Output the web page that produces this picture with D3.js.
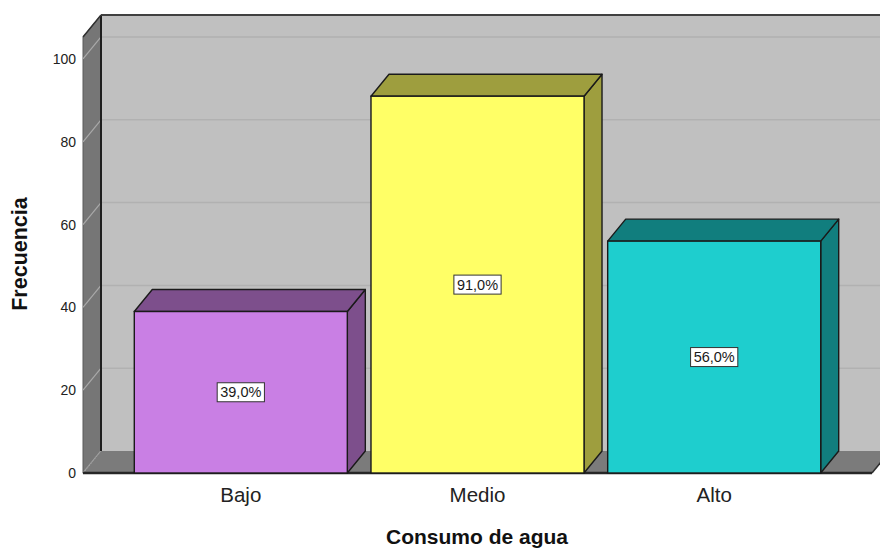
<!DOCTYPE html>
<html>
<head>
<meta charset="utf-8">
<script src="https://cdn.jsdelivr.net/npm/d3@7"></script>
<style>
  html, body { margin: 0; padding: 0; background: #ffffff; }
  svg { display: block; font-family: "Liberation Sans", Arial, Helvetica, sans-serif; }
</style>
</head>
<body>
<svg id="chart" width="880" height="549"></svg>
<script>
// Frequency of water consumption levels
const categories = ["Bajo", "Medio", "Alto"];
const frequencies = [39, 91, 56];
const percentLabels = ["39,0%", "91,0%", "56,0%"];
const yTicks = [0, 20, 40, 60, 80, 100];
const xTitle = "Consumo de agua";
const yTitle = "Frecuencia";

const frontColors = ["#c97fe4", "#ffff66", "#1ecece"];
const shadeColors = ["#7d4f8c", "#9e9e3e", "#117e7e"];

const svg = d3.select("#chart");
const W = 880, H = 549;

// depth offset of the 3D box
const DX = 18, DY = -22;

// front-plane value scale
const y = d3.scaleLinear().domain([0, 105.3]).range([473, 37]);
const x = d3.scaleBand().domain(categories).range([83, 872])
  .paddingInner(0.1).paddingOuter(0.2167);

const left = 83, right = 872;
const y0 = y(0), yTop = y(105.3);

// back wall
svg.append("rect")
  .attr("x", left + DX).attr("y", yTop + DY)
  .attr("width", W - (left + DX) + 20).attr("height", y0 - yTop)
  .attr("fill", "#c0c0c0");

// gridlines on back wall
svg.append("g").selectAll("line").data(yTicks.filter(d => d > 0)).join("line")
  .attr("x1", left + DX).attr("x2", W + 20)
  .attr("y1", d => y(d) + DY).attr("y2", d => y(d) + DY)
  .attr("stroke", "#b1b1b1").attr("stroke-width", 1.5);

// left wall
svg.append("path")
  .attr("d", `M${left},${yTop}L${left + DX},${yTop + DY}L${left + DX},${y0 + DY}L${left},${y0}Z`)
  .attr("fill", "#767676").attr("stroke", "#5a5a5a").attr("stroke-width", 1);

// slanted gridlines on left wall
svg.append("g").selectAll("line").data(yTicks).join("line")
  .attr("x1", left).attr("y1", d => y(d))
  .attr("x2", left + DX).attr("y2", d => y(d) + DY)
  .attr("stroke", "#a9a9a9").attr("stroke-width", 1.2);

// floor
svg.append("path")
  .attr("d", `M${left},${y0}L${left + DX},${y0 + DY}L${right + DX},${y0 + DY}L${right},${y0}Z`)
  .attr("fill", "#7b7b7b");
svg.append("line")
  .attr("x1", left).attr("y1", y0 + 0.5).attr("x2", left + DX).attr("y2", y0 + DY)
  .attr("stroke", "#a0a0a0").attr("stroke-width", 1).attr("stroke-dasharray", "2,1");

// corner edges
svg.append("line")
  .attr("x1", left + DX).attr("y1", yTop + DY).attr("x2", left + DX).attr("y2", y0 + DY)
  .attr("stroke", "#1e1e1e").attr("stroke-width", 2);
svg.append("line")
  .attr("x1", left + DX).attr("y1", yTop + DY).attr("x2", W + 20).attr("y2", yTop + DY)
  .attr("stroke", "#404040").attr("stroke-width", 2);
svg.append("line")
  .attr("x1", left).attr("y1", yTop).attr("x2", left + DX).attr("y2", yTop + DY)
  .attr("stroke", "#303030").attr("stroke-width", 1.5);
svg.append("line")
  .attr("x1", right).attr("y1", y0).attr("x2", right + DX).attr("y2", y0 + DY)
  .attr("stroke", "#303030").attr("stroke-width", 1.5);
svg.append("line")
  .attr("x1", left).attr("y1", y0).attr("x2", right).attr("y2", y0)
  .attr("stroke", "#262626").attr("stroke-width", 2.5);

// bars
const bars = svg.append("g").selectAll("g").data(categories).join("g");
bars.each(function (c, i) {
  const g = d3.select(this);
  const x0 = x(c), x1 = x(c) + x.bandwidth();
  const yv = y(frequencies[i]);
  const stroke = "#1a1a1a";
  g.append("path")
    .attr("d", `M${x1},${yv}L${x1 + DX},${yv + DY}L${x1 + DX},${y0 + DY}L${x1},${y0}Z`)
    .attr("fill", shadeColors[i]).attr("stroke", stroke).attr("stroke-width", 1.4)
    .attr("stroke-linejoin", "round");
  g.append("path")
    .attr("d", `M${x0},${yv}L${x0 + DX},${yv + DY}L${x1 + DX},${yv + DY}L${x1},${yv}Z`)
    .attr("fill", shadeColors[i]).attr("stroke", stroke).attr("stroke-width", 1.4)
    .attr("stroke-linejoin", "round");
  g.append("rect")
    .attr("x", x0).attr("y", yv).attr("width", x1 - x0).attr("height", y0 - yv)
    .attr("fill", frontColors[i]).attr("stroke", stroke).attr("stroke-width", 1.4);

  // value label in a white box
  const cx = (x0 + x1) / 2, cy = (yv + y0) / 2;
  const t = g.append("text")
    .attr("x", cx).attr("y", cy + 5)
    .attr("text-anchor", "middle")
    .attr("font-size", 14.5).attr("fill", "#1a1a1a")
    .text(percentLabels[i]);
  const bb = t.node().getBBox();
  g.insert("rect", "text")
    .attr("x", cx - bb.width / 2 - 3).attr("y", cy - 9.5)
    .attr("width", bb.width + 6).attr("height", 19)
    .attr("fill", "#ffffff").attr("stroke", "#333333").attr("stroke-width", 1);
});

// y tick labels
svg.append("g").selectAll("text").data(yTicks).join("text")
  .attr("x", 76).attr("y", d => y(d) + 5)
  .attr("text-anchor", "end").attr("font-size", 14).attr("fill", "#222")
  .text(d => d);

// category labels
svg.append("g").selectAll("text").data(categories).join("text")
  .attr("x", d => x(d) + x.bandwidth() / 2).attr("y", 501.5)
  .attr("text-anchor", "middle").attr("font-size", 20.5).attr("fill", "#222")
  .text(d => d);

// axis titles
svg.append("text")
  .attr("x", 477).attr("y", 544)
  .attr("text-anchor", "middle").attr("font-size", 21).attr("font-weight", "bold")
  .attr("fill", "#111")
  .text(xTitle);
svg.append("text")
  .attr("transform", "translate(27,254) rotate(-90)")
  .attr("text-anchor", "middle").attr("font-size", 21.5).attr("font-weight", "bold")
  .attr("fill", "#111")
  .text(yTitle);
</script>
</body>
</html>
